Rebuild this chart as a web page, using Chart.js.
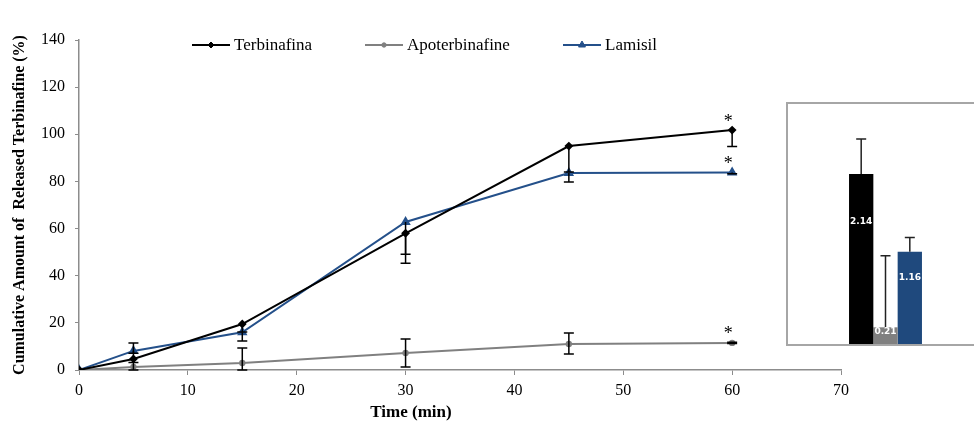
<!DOCTYPE html>
<html>
<head>
<meta charset="utf-8">
<script src="https://cdn.jsdelivr.net/npm/chart.js@4/dist/chart.umd.min.js"></script>
<style>
  body { margin:0; background:#fff; overflow:hidden; }
  #wrap { position:relative; width:974px; height:425px; }
  #inset { position:absolute; left:786px; top:102px; width:195px; height:240px; border:2px solid #a6a6a6; background:#fff; }
</style>
</head>
<body>
<div id="wrap">
  <canvas id="releaseChart" width="974" height="425"></canvas>
  <div id="inset"><canvas id="insetChart" width="195" height="240"></canvas></div>
</div>
<script>
// time points (min)
const timePoints = [0, 5, 15, 30, 45, 60];

// cumulative release (%)
const terbinafina = [0, 4.7, 19.5, 58, 95, 101.8];
const apoterbinafine = [0, 1.3, 3.0, 7.2, 11, 11.5];
const lamisil = [0, 8.1, 16, 62.8, 83.6, 83.8];

// error bars (plus / minus)
const terbinafinaPlus = [0, 0, 0, 0, 0, 0];
const terbinafinaMinus = [0, 1.5, 3.4, 12.7, 11, 7];
const apoterPlus = [0, 10.2, 6.3, 5.9, 4.7, 0.3];
const apoterMinus = [0, 1.3, 3.0, 5.9, 4.2, 0.3];
const lamisilPlus = [0, 0, 0, 0, 0, 0];
const lamisilMinus = [0, 1, 3.7, 13.7, 3.8, 0.5];

// significance marks at last point
const starMarks = ['*', '*', '*'];

// axis titles
const xTitle = 'Time (min)';
const yTitle = 'Cumulative Amount of  Released Terbinafine (%)';

// inset bars
const insetLabels = ['Terbinafina', 'Apoterbinafine', 'Lamisil'];
const insetValues = [2.14, 0.21, 1.16];
const insetErrors = [0.44, 0.90, 0.18];

const blueLine = '#24508a';
const blueBar = '#1f497d';
const grayCol = '#808080';
const axisGray = '#8c8c8c';

Chart.defaults.font.family = "'Liberation Serif', 'Times New Roman', serif";
Chart.defaults.color = '#000';

function toXY(vals){
  return vals.map((v,i)=> ({x: timePoints[i], y: v}));
}

// error bars + stars on the line chart
const errorBarPlugin = {
  id: 'errorBars',
  afterDatasetsDraw(chart){
    const {ctx, scales:{x, y}} = chart;
    ctx.save();
    chart.data.datasets.forEach((ds, di)=>{
      ds.data.forEach((p, i)=>{
        const up = ds.errPlus[i], dn = ds.errMinus[i];
        if(!up && !dn) return;
        const px = x.getPixelForValue(p.x);
        const yTop = y.getPixelForValue(p.y + up);
        const yBot = y.getPixelForValue(p.y - dn);
        ctx.strokeStyle = '#000';
        ctx.lineWidth = 1.5;
        ctx.beginPath();
        ctx.moveTo(px, yTop); ctx.lineTo(px, yBot);
        if(up){ ctx.moveTo(px-5, yTop); ctx.lineTo(px+5, yTop); }
        if(dn){ ctx.moveTo(px-5, yBot); ctx.lineTo(px+5, yBot); }
        ctx.stroke();
      });
      // star above last point
      const last = ds.data[ds.data.length-1];
      ctx.fillStyle = '#000';
      ctx.font = "18px 'Liberation Serif'";
      ctx.textAlign = 'center';
      ctx.textBaseline = 'alphabetic';
      ctx.fillText(starMarks[di], x.getPixelForValue(last.x) - 4, y.getPixelForValue(last.y + ds.errPlus[ds.errPlus.length-1]) - 3);
    });
    ctx.restore();
  }
};

// legend in one row inside the plot, and the x title (sits left of centre in the original)
const legendPlugin = {
  id: 'rowLegend',
  afterDraw(chart){
    const ctx = chart.ctx;
    const starts = [192, 365, 563];
    ctx.save();
    chart.data.datasets.forEach((ds, i)=>{
      const x0 = starts[i], yy = 45;
      ctx.strokeStyle = ds.borderColor;
      ctx.fillStyle = ds.backgroundColor;
      ctx.lineWidth = 2;
      ctx.beginPath(); ctx.moveTo(x0, yy); ctx.lineTo(x0+38, yy); ctx.stroke();
      ctx.lineWidth = 1;
      Chart.helpers.drawPoint(ctx, {pointStyle: ds.pointStyle, radius: ds.pointRadius, borderWidth: 1}, x0+19, yy);
      ctx.fillStyle = '#000';
      ctx.font = "17px 'Liberation Serif'";
      ctx.textAlign = 'left';
      ctx.textBaseline = 'middle';
      ctx.fillText(ds.label, x0+42, yy+1);
    });
    ctx.font = "bold 17px 'Liberation Serif'";
    ctx.textAlign = 'center';
    ctx.textBaseline = 'middle';
    ctx.fillText(xTitle, 411, 413);
    ctx.restore();
  }
};

new Chart(document.getElementById('releaseChart'), {
  type: 'line',
  data: {
    datasets: [
      {label:'Terbinafina', data: toXY(terbinafina), borderColor:'#000', backgroundColor:'#000',
        pointStyle:'rectRot', pointRadius:3, borderWidth:2, errPlus: terbinafinaPlus, errMinus: terbinafinaMinus},
      {label:'Apoterbinafine', data: toXY(apoterbinafine), borderColor:grayCol, backgroundColor:grayCol,
        pointStyle:'circle', pointRadius:2.2, borderWidth:2, errPlus: apoterPlus, errMinus: apoterMinus},
      {label:'Lamisil', data: toXY(lamisil), borderColor:blueLine, backgroundColor:blueLine,
        pointStyle:'triangle', pointRadius:4, borderWidth:2, errPlus: lamisilPlus, errMinus: lamisilMinus}
    ]
  },
  options: {
    responsive:false,
    animation:false,
    layout:{padding:{left:0, right:133, top:40, bottom:0}},
    plugins:{legend:{display:false}, tooltip:{enabled:false}},
    elements:{point:{borderWidth:1}},
    scales:{
      x:{
        type:'linear', min:0, max:70,
        ticks:{stepSize:10, font:{size:16}, padding:6},
        grid:{drawOnChartArea:false, drawTicks:true, tickLength:5, color:axisGray},
        border:{color:axisGray, width:1.5},
        afterFit(scale){ scale.height = 55; }
      },
      y:{
        min:0, max:140,
        ticks:{stepSize:20, font:{size:16}, padding:10},
        grid:{drawOnChartArea:false, drawTicks:true, tickLength:4, color:axisGray},
        border:{color:axisGray, width:1.5},
        title:{display:true, text:yTitle, font:{size:16, weight:'bold'}, padding:{top:10, bottom:0}},
        afterFit(scale){ scale.width = 79; }
      }
    }
  },
  plugins:[errorBarPlugin, legendPlugin]
});

// inset bar chart: error bars and value labels
const insetPlugin = {
  id: 'insetMarks',
  afterDatasetsDraw(chart){
    const {ctx, scales:{y}} = chart;
    ctx.save();
    chart.data.datasets.forEach((ds, di)=>{
      const bar = chart.getDatasetMeta(di).data[0];
      const v = ds.data[0];
      const err = insetErrors[di];
      const yTop = y.getPixelForValue(v + err);
      ctx.strokeStyle = '#222';
      ctx.lineWidth = 1.5;
      ctx.beginPath();
      ctx.moveTo(bar.x, bar.y); ctx.lineTo(bar.x, yTop);
      ctx.moveTo(bar.x-5, yTop); ctx.lineTo(bar.x+5, yTop);
      ctx.stroke();
      ctx.fillStyle = '#fff';
      ctx.font = "bold 9px 'DejaVu Sans'";
      ctx.textAlign = 'center';
      ctx.textBaseline = 'middle';
      const ly = Math.min(y.getPixelForValue(v * 0.72), y.bottom - 7);
      ctx.fillText(v.toFixed(2), bar.x, ly);
    });
    ctx.restore();
  }
};

new Chart(document.getElementById('insetChart'), {
  type: 'bar',
  data: {
    labels: [''],
    datasets: [
      {label: insetLabels[0], data:[insetValues[0]], backgroundColor:'#000'},
      {label: insetLabels[1], data:[insetValues[1]], backgroundColor:grayCol},
      {label: insetLabels[2], data:[insetValues[2]], backgroundColor:blueBar}
    ]
  },
  options: {
    responsive:false,
    animation:false,
    layout:{padding:0},
    datasets:{bar:{categoryPercentage:0.374, barPercentage:1}},
    plugins:{legend:{display:false}, tooltip:{enabled:false}},
    scales:{
      x:{display:false},
      y:{display:false, min:0, max:3.02}
    }
  },
  plugins:[insetPlugin]
});
</script>
</body>
</html>
